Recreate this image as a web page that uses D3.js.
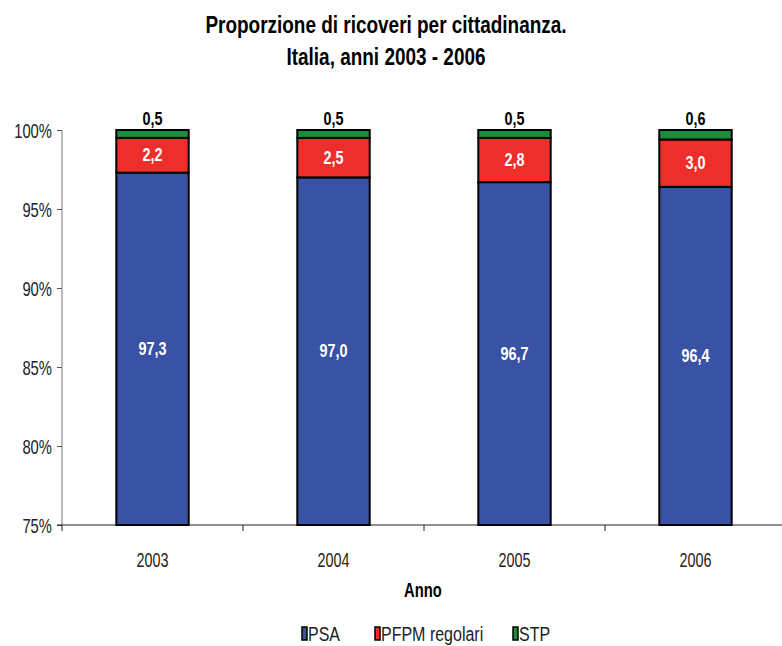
<!DOCTYPE html>
<html>
<head>
<meta charset="utf-8">
<script src="https://cdn.jsdelivr.net/npm/d3@7"></script>
<style>
    body { margin: 0; background: #fff; }
    svg text { font-family: "Liberation Sans", Arial, sans-serif; }
</style>
</head>
<body>
<div id="chart"></div>
<script>
/*
 * Chart data.
 */
var years = ['2003', '2004', '2005', '2006'];
var psa   = [97.3, 97.0, 96.7, 96.4];
var pfpm  = [2.2, 2.5, 2.8, 3.0];
var stp   = [0.5, 0.5, 0.5, 0.6];
var seriesNames = ['PSA', 'PFPM regolari', 'STP'];
var yTicks = [75, 80, 85, 90, 95, 100];

var colors = ['#3A52A4', '#EE2E2A', '#1A8C3C'];

var width = 782, height = 646;
var margin = { top: 130, right: -4, bottom: 121, left: 62 };

var svg = d3.select('#chart').append('svg')
    .attr('width', width)
    .attr('height', height);

/*
 * Squeeze text horizontally to imitate a narrow typeface.
 */
function squeeze(sel, s) {
    sel.each(function() {
        var t = d3.select(this);
        var x = +t.attr('x') || 0, y = +t.attr('y') || 0;
        var dy = t.attr('dy');
        t.attr('x', 0).attr('y', 0)
            .attr('transform', 'translate(' + x + ',' + y + ') scale(' + s + ',1)');
        if (dy) t.attr('dy', dy);
    });
}

/*
 * Build stacked rows.
 */
var rows = years.map(function(y, i) {
    return { year: y, PSA: psa[i], 'PFPM regolari': pfpm[i], STP: stp[i] };
});
var stacked = d3.stack().keys(seriesNames)(rows);

var x = d3.scaleBand()
    .domain(years)
    .range([margin.left, width - margin.right])
    .paddingInner(0.6)
    .paddingOuter(0.3);

var y = d3.scaleLinear()
    .domain([75, 100])
    .range([height - margin.bottom, margin.top]);

/*
 * Title.
 */
var titleLines = ['Proporzione di ricoveri per cittadinanza.', 'Italia, anni 2003 - 2006'];
svg.selectAll('.title')
    .data(titleLines)
    .enter().append('text')
    .attr('x', 386)
    .attr('y', function(d, i) { return 33 + i * 32; })
    .attr('text-anchor', 'middle')
    .attr('font-size', 24)
    .attr('font-weight', 'bold')
    .attr('fill', '#000')
    .text(function(d) { return d; })
    .call(squeeze, 0.79);

/*
 * Axes.
 */
var yAxis = svg.append('g')
    .attr('transform', 'translate(' + margin.left + ',0)')
    .call(d3.axisLeft(y).tickValues(yTicks).tickSize(5).tickPadding(5)
        .tickFormat(function(d) { return d + '%'; }));
yAxis.select('.domain').remove();
yAxis.append('line')
    .attr('y1', y(100)).attr('y2', y(75))
    .attr('stroke', '#777');
yAxis.selectAll('.tick line').attr('stroke', '#555');
yAxis.selectAll('text')
    .attr('font-size', 20)
    .attr('fill', '#222')
    .attr('dy', '0.36em')
    .call(squeeze, 0.74);

var xAxis = svg.append('g')
    .attr('transform', 'translate(0,' + (height - margin.bottom) + ')');
xAxis.append('line')
    .attr('x1', margin.left - 5).attr('x2', width)
    .attr('stroke', '#222');
var step = x.step();
xAxis.selectAll('.sep')
    .data(d3.range(years.length + 1))
    .enter().append('line')
    .attr('x1', function(d) { return margin.left + d * step; })
    .attr('x2', function(d) { return margin.left + d * step; })
    .attr('y1', 0).attr('y2', 6)
    .attr('stroke', '#222');
xAxis.selectAll('.lab')
    .data(years)
    .enter().append('text')
    .attr('x', function(d) { return x(d) + x.bandwidth() / 2; })
    .attr('y', 42)
    .attr('text-anchor', 'middle')
    .attr('font-size', 20)
    .attr('fill', '#222')
    .text(function(d) { return d; })
    .call(squeeze, 0.72);

svg.append('text')
    .attr('x', 423).attr('y', 597)
    .attr('text-anchor', 'middle')
    .attr('font-size', 20)
    .attr('font-weight', 'bold')
    .text('Anno')
    .call(squeeze, 0.74);

/*
 * Stacked bars.
 */
var layers = svg.selectAll('.layer')
    .data(stacked)
    .enter().append('g')
    .attr('fill', function(d, i) { return colors[i]; });

layers.selectAll('rect')
    .data(function(d) { return d; })
    .enter().append('rect')
    .attr('x', function(d) { return x(d.data.year); })
    .attr('width', x.bandwidth())
    .attr('y', function(d) { return y(d[1]); })
    .attr('height', function(d) { return y(Math.max(d[0], 75)) - y(d[1]); })
    .attr('stroke', '#000')
    .attr('stroke-width', 2);

/*
 * Value labels.
 */
function fmt(v) { return v.toFixed(1).replace('.', ','); }

stacked.forEach(function(layer, li) {
    svg.selectAll('.v' + li)
        .data(layer)
        .enter().append('text')
        .attr('x', function(d) { return x(d.data.year) + x.bandwidth() / 2; })
        .attr('y', function(d) {
            if (li === 2) return y(d[1]) - 5;
            return y((Math.max(d[0], 75) + d[1]) / 2) + 6;
        })
        .attr('text-anchor', 'middle')
        .attr('font-size', 18)
        .attr('font-weight', 'bold')
        .attr('fill', li === 2 ? '#000' : '#fff')
        .text(function(d) { return fmt(d[1] - d[0]); })
        .call(squeeze, 0.8);
});

/*
 * Legend.
 */
var legendX = [302, 375, 513];
var legend = svg.selectAll('.legend')
    .data(seriesNames)
    .enter().append('g')
    .attr('transform', function(d, i) { return 'translate(' + legendX[i] + ',627)'; });
legend.append('rect')
    .attr('width', 5).attr('height', 13)
    .attr('fill', function(d, i) { return colors[i]; })
    .attr('stroke', '#000')
    .attr('stroke-width', 1.5);
legend.append('text')
    .attr('x', 6).attr('y', 14)
    .attr('font-size', 20)
    .attr('fill', '#222')
    .text(function(d) { return d; })
    .call(squeeze, 0.8);
</script>
</body>
</html>
